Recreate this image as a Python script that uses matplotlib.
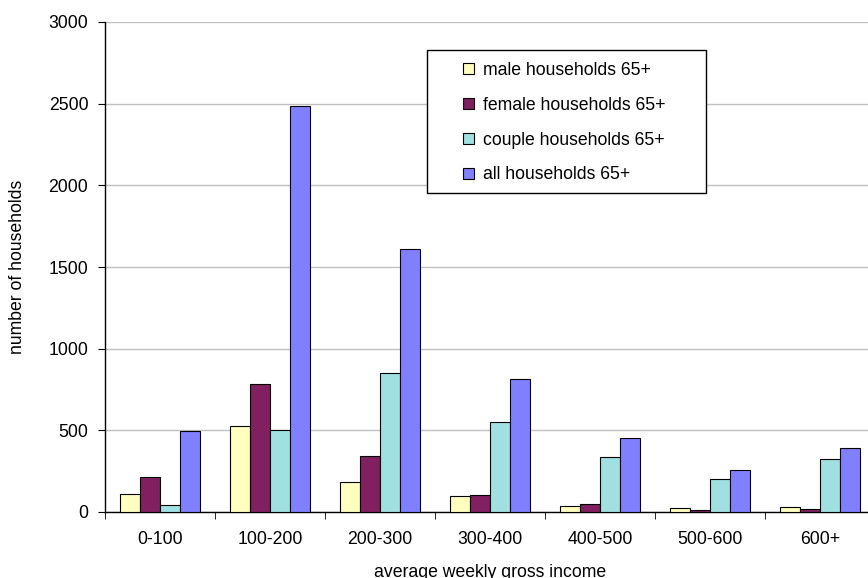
import numpy as np
import matplotlib
matplotlib.use("Agg")
import matplotlib.pyplot as plt
from matplotlib.patches import Patch, Rectangle

plt.rcParams['font.family'] = ['Liberation Sans', 'DejaVu Sans']

categories = ["0-100", "100-200", "200-300", "300-400", "400-500", "500-600", "600+"]
male = [109, 528, 184, 100, 35, 23, 29]
female = [215, 785, 342, 106, 49, 14, 16]
couple = [43, 499, 851, 550, 335, 200, 327]
all_hh = [493, 2485, 1613, 816, 456, 258, 391]

series = [male, female, couple, all_hh]
labels = ["male households 65+", "female households 65+",
          "couple households 65+", "all households 65+"]
colors = ["#FFFFC0", "#802060", "#A0E0E0", "#8080FF"]

W, H = 868, 578
fig = plt.figure(figsize=(W / 100, H / 100), dpi=100)
ax = fig.add_axes([105 / W, (H - 512) / H, 770 / W, 490 / H])

x = np.arange(len(categories))
bw = 0.18
for j, vals in enumerate(series):
    ax.bar(x + (j - 1.5) * bw, vals, bw, color=colors[j],
           edgecolor="black", linewidth=0.8, zorder=3)

ax.set_xlim(-0.5, len(categories) - 0.5)
ax.set_ylim(0, 3000)
ax.set_yticks(np.arange(0, 3001, 500))
ax.yaxis.grid(True, color="#C0C0C0", linewidth=1, zorder=0)
ax.set_axisbelow(True)

for s in ["top", "right"]:
    ax.spines[s].set_visible(False)
for s in ["left", "bottom"]:
    ax.spines[s].set_color("black")
    ax.spines[s].set_linewidth(1)

fs = 12.7
ax.set_xticks(x)
ax.set_xticklabels(categories, fontsize=fs)
ax.set_xticks(np.arange(-0.5, len(categories), 1), minor=True)
ax.tick_params(axis="x", which="major", length=0, pad=14)
ax.tick_params(axis="x", which="minor", length=5, direction="out", color="black")
ax.tick_params(axis="y", length=5, direction="out", pad=7, labelsize=fs, color="black")

ax.set_xlabel("average weekly gross income", fontsize=fs, labelpad=11)
ax.set_ylabel("number of households", fontsize=fs)
ax.yaxis.set_label_coords(-0.1025, 0.5)

# legend box drawn by hand, legend itself without frame
fig.patches.append(Rectangle((427 / W, 1 - 193 / H), 279 / W, 143 / H,
                             transform=fig.transFigure, facecolor="white",
                             edgecolor="black", linewidth=1, zorder=5))
handles = [Patch(facecolor=c, edgecolor="black", linewidth=0.8) for c in colors]
fig.legend(handles, labels, loc="upper left",
           bbox_to_anchor=(463 / W, 1 - 62 / H), frameon=False, fontsize=fs,
           handlelength=0.6, handleheight=0.6, handletextpad=0.55,
           labelspacing=1.01, borderpad=0, borderaxespad=0)

fig.savefig("out.png", dpi=100)
